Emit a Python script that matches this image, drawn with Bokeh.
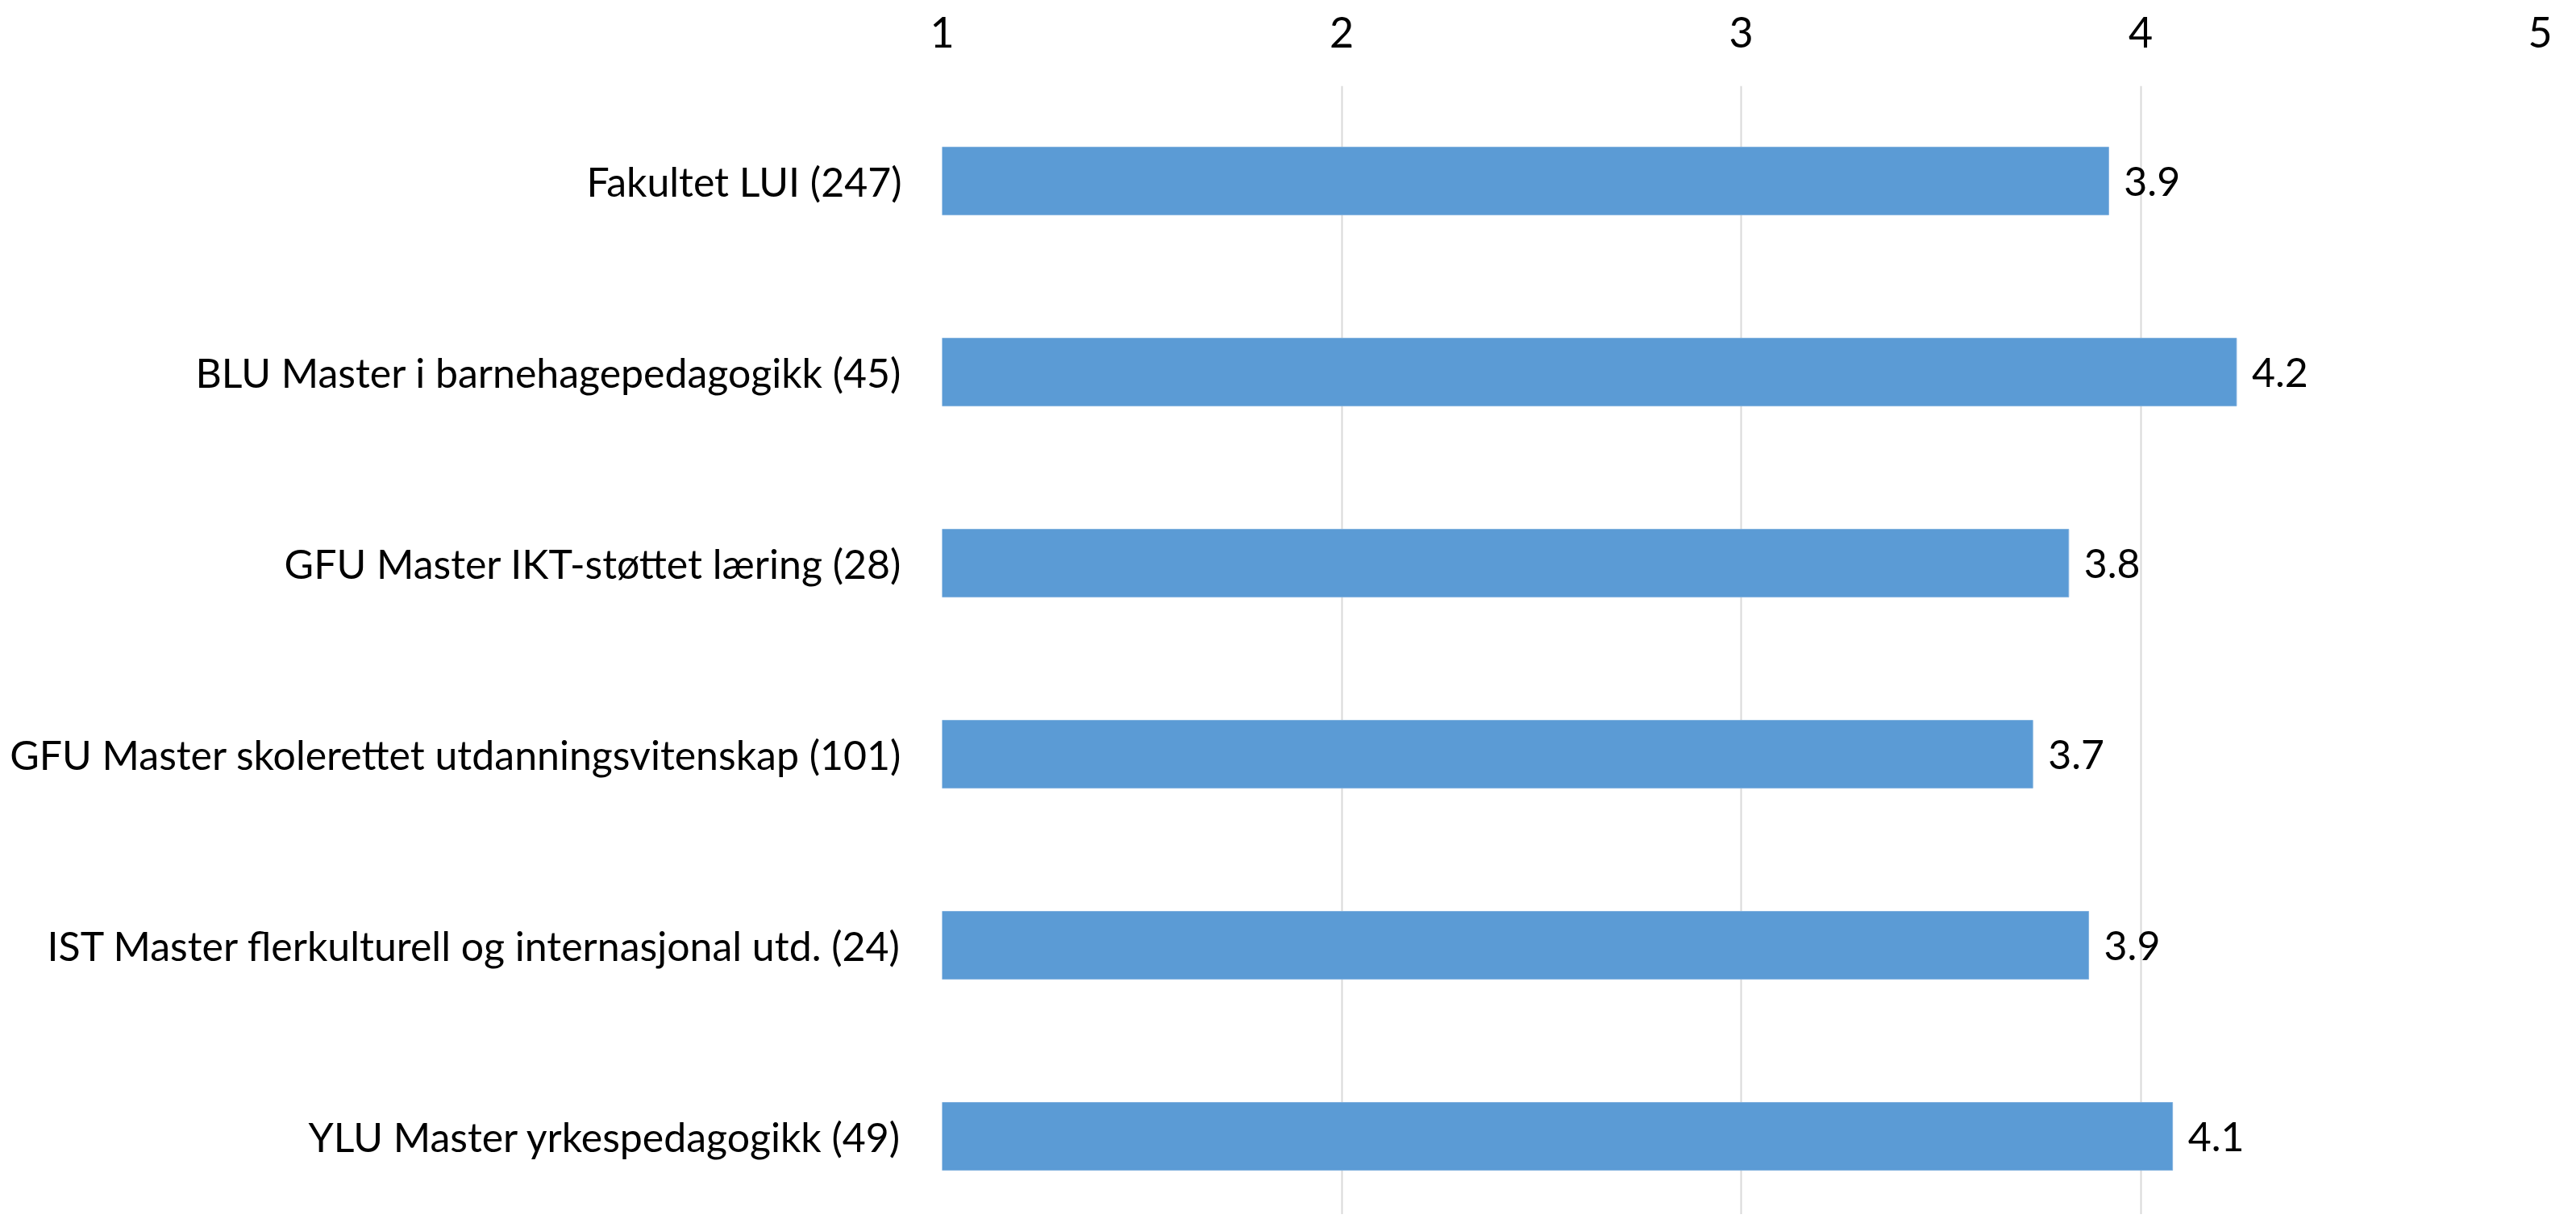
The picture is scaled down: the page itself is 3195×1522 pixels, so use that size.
from bokeh.plotting import figure
from bokeh.models import Range1d, FixedTicker, ColumnDataSource, LabelSet
from bokeh.embed import file_html
from bokeh.resources import INLINE
from bokeh.core.properties import value

categories = [
    "Fakultet LUI (247)",
    "BLU Master i barnehagepedagogikk (45)",
    "GFU Master IKT-støttet læring (28)",
    "GFU Master skolerettet utdanningsvitenskap (101)",
    "IST Master flerkulturell og internasjonal utd. (24)",
    "YLU Master yrkespedagogikk (49)",
]
values = [3.92, 4.24, 3.82, 3.73, 3.87, 4.08]
x_ticks = [1, 2, 3, 4, 5]

FONT = "Lato"
FS = "50px"

pos = list(range(len(categories)))
src = ColumnDataSource(dict(
    y=pos,
    left=[1] * len(values),
    right=values,
    label=["%.1f" % v for v in values],
))

p = figure(
    width=3179, height=1506,
    x_range=Range1d(1, 5),
    y_range=Range1d(5.409, -0.498),
    x_axis_location="above",
    output_backend="svg",
    toolbar_location=None,
    min_border_left=1168, min_border_right=29,
    min_border_top=106, min_border_bottom=0,
)
p.outline_line_color = None
p.background_fill_color = "white"
p.border_fill_color = "white"

p.hbar(y="y", left="left", right="right", height=0.355, source=src,
       fill_color="#5B9BD5", line_color="#7FB0DE", line_width=1)

labels = LabelSet(x="right", y="y", text="label", source=src,
                  x_offset=19, y_offset=0,
                  text_font=value(FONT), text_font_size=FS,
                  text_color="black", text_baseline="middle", text_align="left")
p.add_layout(labels)

# x axis (top)
xa = p.xaxis[0]
xa.ticker = FixedTicker(ticks=x_ticks)
xa.axis_line_color = None
xa.major_tick_line_color = None
xa.minor_tick_line_color = None
xa.major_tick_in = 0
xa.major_tick_out = 0
xa.major_label_text_font = FONT
xa.major_label_text_font_size = "52px"
xa.major_label_text_color = "black"
xa.major_label_standoff = 48

# y axis (left)
ya = p.yaxis[0]
ya.ticker = FixedTicker(ticks=pos)
ya.major_label_overrides = {i: c for i, c in enumerate(categories)}
ya.axis_line_color = None
ya.major_tick_line_color = None
ya.minor_tick_line_color = None
ya.major_tick_in = 0
ya.major_tick_out = 0
ya.major_label_text_font = FONT
ya.major_label_text_font_size = FS
ya.major_label_text_color = "black"
ya.major_label_standoff = 50

p.xgrid.grid_line_color = "#D9D9D9"
p.xgrid.grid_line_width = 2
p.xgrid.ticker = FixedTicker(ticks=x_ticks)
p.ygrid.grid_line_color = None

open("out.html", "w").write(file_html(p, INLINE))
